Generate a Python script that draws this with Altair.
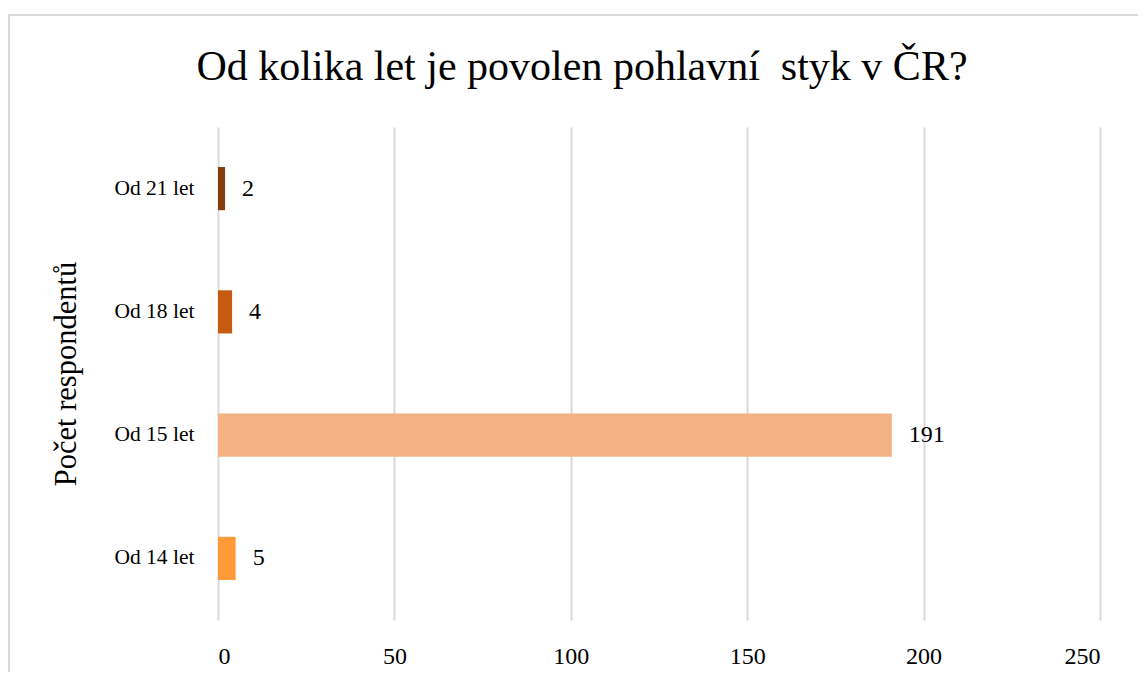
import altair as alt
import pandas as pd

categories = ["Od 21 let", "Od 18 let", "Od 15 let", "Od 14 let"]
values = [2, 4, 191, 5]
colors = ["#843C0C", "#C55A11", "#F4B183", "#FF9A38"]
x_ticks = [0, 50, 100, 150, 200, 250]
title_text = "Od kolika let je povolen pohlavní\u00a0 styk v ČR?"
y_title = "Počet respondentů"

df = pd.DataFrame({"cat": categories, "val": values, "color": colors})

FONT = "Liberation Serif"
W, H = 882, 493

y_enc = alt.Y(
    "cat:N",
    sort=categories,
    title=y_title,
    scale=alt.Scale(paddingInner=0.65, paddingOuter=0.325),
    axis=alt.Axis(
        domain=False, ticks=False, labelPadding=24, labelFontSize=21.5,
        labelFont=FONT, labelColor="#000000", titleFont=FONT, titleFontSize=30.5,
        titleFontWeight="normal", titleColor="#000000", titleX=-152,
        titleY=H / 2, titleBaseline="middle", grid=False,
    ),
)

x_enc = alt.X(
    "val:Q",
    scale=alt.Scale(domain=[0, 250], nice=False),
    title=None,
    axis=alt.Axis(
        values=x_ticks, domain=False, ticks=False, labelPadding=24,
        labelFontSize=24, labelFont=FONT, labelColor="#000000",
        grid=True, gridColor="#D9D9D9", gridWidth=2,
    ),
)

border = alt.Chart(pd.DataFrame({"a": [0]})).mark_rect(
    fill=None, stroke="#D9D9D9", strokeWidth=2, clip=False
).encode(
    x=alt.value(-209), x2=alt.value(960), y=alt.value(-112), y2=alt.value(600)
)

title = alt.Chart(pd.DataFrame({"t": [title_text]})).mark_text(
    font=FONT, fontSize=42, color="#000000", align="center",
    baseline="alphabetic", clip=False,
).encode(x=alt.value(364), y=alt.value(-47), text="t:N")

bars = alt.Chart(df).mark_bar().encode(
    x=x_enc,
    y=y_enc,
    color=alt.Color("color:N", scale=None),
)

labels = alt.Chart(df).mark_text(
    align="left", baseline="middle", dx=17, font=FONT, fontSize=24, color="#000000"
).encode(x="val:Q", y=alt.Y("cat:N", sort=categories), text="val:Q")

chart = alt.layer(border, title, bars, labels).properties(
    width=W,
    height=H,
    autosize=alt.AutoSizeParams(type="none"),
    padding={"left": 210, "top": 119, "right": 38, "bottom": 52},
).configure_view(stroke=None)

chart.save("out.html", embed_options={"renderer": "svg", "actions": False})
